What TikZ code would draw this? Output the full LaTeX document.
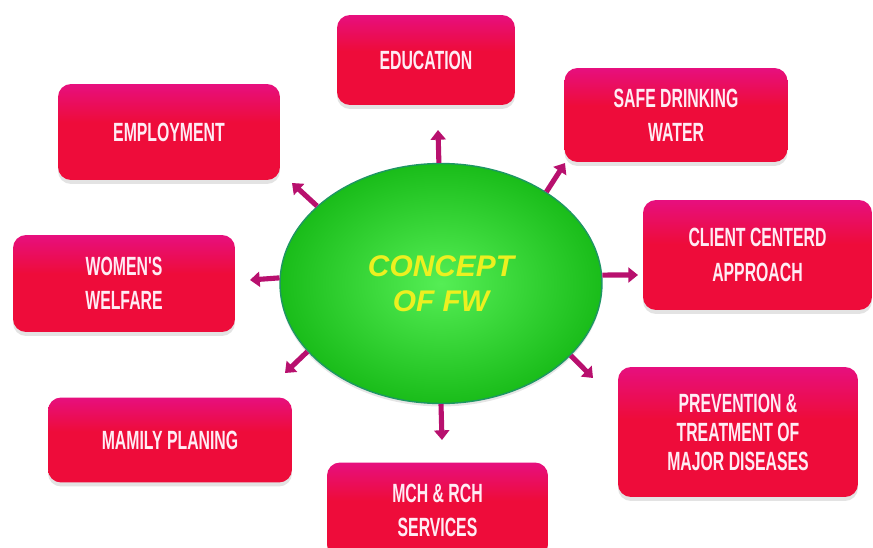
\documentclass[tikz,border=0pt]{standalone}
\usepackage{fontspec}
\usetikzlibrary{arrows.meta,shapes.geometric,shadows}
\newfontfamily\boxfont[FakeStretch=0.6]{Liberation Sans}
\newfontfamily\hubfont{Liberation Sans}

\definecolor{boxred}{RGB}{238,12,58}
\definecolor{boxpink}{RGB}{228,16,150}
\definecolor{boxtext}{RGB}{255,236,244}
\definecolor{arrowcol}{RGB}{184,16,110}
\definecolor{hubgreen}{RGB}{28,205,28}
\definecolor{hublight}{RGB}{85,238,85}
\definecolor{hubrim}{RGB}{30,150,100}
\definecolor{hubtext}{RGB}{236,240,32}

\pgfdeclareverticalshading{boxshade}{100bp}{%
  color(0bp)=(boxred); color(55bp)=(boxred);
  color(82bp)=(boxpink); color(100bp)=(boxpink)}

\tikzset{
  topic/.style={rectangle, rounded corners=0.26cm, shading=boxshade,
    drop shadow={opacity=0.22, shadow xshift=0pt, shadow yshift=-0.08cm},
    text=boxtext, align=center,
    font=\boxfont\bfseries\fontsize{15}{19.5}\selectfont},
  hub/.style={ellipse, inner sep=0pt, shading=radial,
    inner color=hublight, outer color=hubgreen!92!black,
    draw=hubrim, line width=0.8pt,
    drop shadow={opacity=0.2, shadow xshift=0pt, shadow yshift=-0.06cm},
    text=hubtext, align=center,
    font=\hubfont\bfseries\itshape\fontsize{17}{20}\selectfont},
  spoke/.style={draw=arrowcol, line width=2.9pt,
    -{Triangle[width=8.5pt,length=5.5pt]}},
}

\begin{document}
\begin{tikzpicture}[x=0.02cm, y=-0.02cm]
  \useasboundingbox[fill=white] (0,0) rectangle (873,548);

  % central ellipse
  \node[hub, minimum width=6.44cm, minimum height=4.8cm] (c) at (441,283.5)
    {CONCEPT\\OF FW};

  % surrounding topics
  \node[topic, minimum width=3.56cm, minimum height=1.8cm] (edu) at (426,60) {EDUCATION};
  \node[topic, minimum width=4.46cm, minimum height=1.88cm] (water) at (676,115)
    {SAFE DRINKING\\WATER};
  \node[topic, minimum width=4.44cm, minimum height=1.92cm] (emp) at (169,132) {EMPLOYMENT};
  \node[topic, minimum width=4.44cm, minimum height=1.94cm] (women) at (124,283.5)
    {WOMEN'S\\WELFARE};
  \node[topic, minimum width=4.58cm, minimum height=2.2cm] (client) at (757.5,255)
    {CLIENT CENTERD\\APPROACH};
  \node[topic, minimum width=4.8cm, minimum height=2.6cm,
        font=\boxfont\bfseries\fontsize{15}{16.5}\selectfont] (prev) at (738,432)
    {PREVENTION \&\\TREATMENT OF\\MAJOR DISEASES};
  \node[topic, minimum width=4.88cm, minimum height=1.7cm] (fam) at (170,440) {MAMILY PLANING};
  \node[topic, minimum width=4.42cm, minimum height=1.9cm, text depth=0pt]
    (mch) at (437.5,510) {MCH \& RCH\\SERVICES};

  % arrow tips
  \coordinate (tEdu)    at (438,130);
  \coordinate (tWater)  at (565,163);
  \coordinate (tClient) at (638,275);
  \coordinate (tPrev)   at (593,378);
  \coordinate (tMch)    at (442,440);
  \coordinate (tFam)    at (285,373);
  \coordinate (tWomen)  at (250,280);
  \coordinate (tEmp)    at (292,183);

  % spokes from the centre
  \draw[spoke] (c.91)  -- (tEdu);
  \draw[spoke] (c.41)  -- (tWater);
  \draw[spoke] (c.3)   -- (tClient);
  \draw[spoke] (c.-29) -- (tPrev);
  \draw[spoke] (c.270) -- (tMch);
  \draw[spoke] (c.207) -- (tFam);
  \draw[spoke] (c.178) -- (tWomen);
  \draw[spoke] (c.148) -- (tEmp);
\end{tikzpicture}
\end{document}
